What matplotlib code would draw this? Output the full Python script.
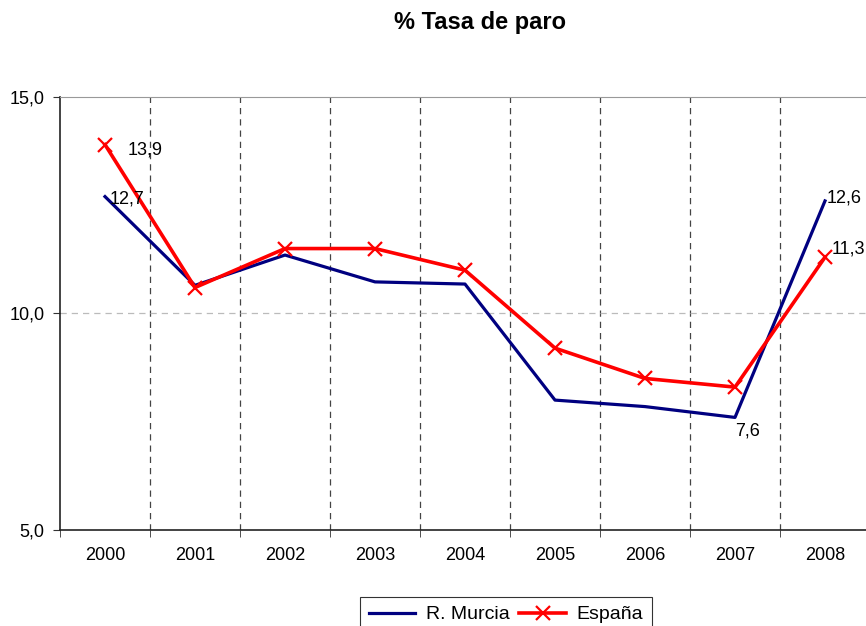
import matplotlib.pyplot as plt
import numpy as np

plt.rcParams['font.family'] = ['Liberation Sans', 'DejaVu Sans']

years = ['2000', '2001', '2002', '2003', '2004', '2005', '2006', '2007', '2008']
murcia = [12.7, 10.65, 11.35, 10.73, 10.68, 8.0, 7.85, 7.6, 12.6]
espana = [13.9, 10.6, 11.5, 11.5, 11.0, 9.2, 8.5, 8.3, 11.3]

x = np.arange(len(years)) + 0.5

fig = plt.figure(figsize=(8.66, 6.26), dpi=100)
ax = fig.add_axes([60/866, 1 - 530/626, 810/866, 433/626])

ax.plot(x, murcia, color='#000080', lw=2.3, label='R. Murcia')
ax.plot(x, espana, color='#ff0000', lw=2.6, marker='x', ms=10, mew=1.6, label='España')

ax.set_xlim(0, len(years))
ax.set_ylim(5, 15)
ax.set_yticks([5, 10, 15])
ax.set_yticklabels(['5,0', '10,0', '15,0'], fontsize=13)
ax.set_xticks(x)
ax.set_xticklabels(years, fontsize=13)
ax.tick_params(axis='x', length=0, pad=12)
ax.set_xticks(np.arange(0, len(years) + 1), minor=True)
ax.tick_params(axis='x', which='minor', length=5, direction='out', color='#333333')
ax.tick_params(axis='y', length=5, direction='out', color='#333333', pad=6)

for b in range(1, len(years)):
    ax.axvline(b, color='#444444', lw=0.9, ls=(0, (5, 4)), zorder=0)
ax.axhline(10, color='#bbbbbb', lw=0.9, ls=(0, (5, 4)), zorder=0)

ax.spines['top'].set_color('#999999')
ax.spines['right'].set_visible(False)
ax.spines['left'].set_color('#222222')
ax.spines['bottom'].set_color('#222222')
ax.spines['left'].set_linewidth(1.2)
ax.spines['bottom'].set_linewidth(1.2)

# data labels (offsets in pixels from the point)
labels = [(x[0], espana[0], '13,9', 23, -5),
          (x[0], murcia[0], '12,7', 5, -2),
          (x[7], murcia[7], '7,6', 0, -14),
          (x[8], murcia[8], '12,6', 2, 3),
          (x[8], espana[8], '11,3', 7, 8)]
for px, py, txt, dx, dy in labels:
    ax.annotate(txt, (px, py), xytext=(dx, dy), textcoords='offset pixels',
                fontsize=13, ha='left', va='center')

fig.text(480/866, 1 - 22/626, '% Tasa de paro', fontsize=17, fontweight='bold',
         ha='center', va='center')

leg = fig.legend(loc='upper center', bbox_to_anchor=(506/866, 1 - 597/626), ncol=2,
                 fontsize=14, frameon=True, fancybox=False, handlelength=2.4,
                 columnspacing=0.5, handletextpad=0.55, borderpad=0.45,
                 borderaxespad=0)
leg.get_frame().set_edgecolor('#000000')
leg.get_frame().set_linewidth(0.8)

fig.savefig('out.png', dpi=100)
